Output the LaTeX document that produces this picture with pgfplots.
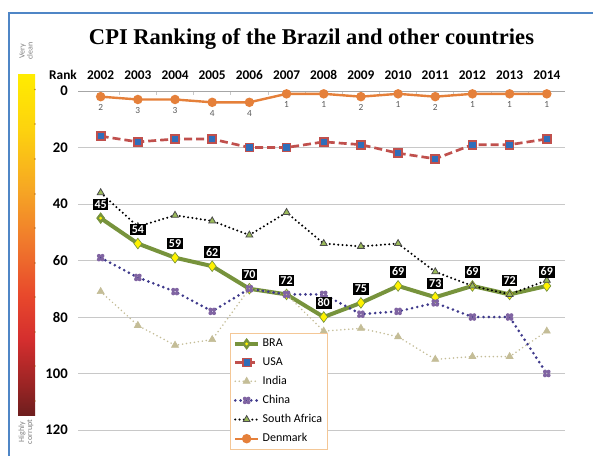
\documentclass[border=0pt]{standalone}
\usepackage{pgfplots}
\pgfplotsset{compat=1.18}
\usepackage{fontspec}
\setmainfont{Carlito}
\newfontfamily\titlefont{Liberation Serif}
\definecolor{braG}{HTML}{77933C}
\definecolor{usaR}{HTML}{C0504D}
\definecolor{usaB}{HTML}{2F6EBA}
\definecolor{indT}{HTML}{C4BD97}
\definecolor{chiL}{HTML}{3F3A8C}
\definecolor{chiM}{HTML}{8064A2}
\definecolor{saG}{HTML}{9BBB59}
\definecolor{denO}{HTML}{E5803A}
\definecolor{frameB}{HTML}{4F86C6}
\definecolor{legB}{HTML}{F4C796}
\definecolor{gridG}{HTML}{C8C8C8}
\definecolor{cbA}{HTML}{6E1E1E}
\definecolor{cbB}{HTML}{9A2424}
\definecolor{cbC}{HTML}{D42E2E}
\definecolor{cbD}{HTML}{E8482C}
\definecolor{cbE}{HTML}{F07A2C}
\definecolor{cbF}{HTML}{F6A624}
\definecolor{cbG}{HTML}{FDD30E}
\definecolor{cbH}{HTML}{FFEC00}
\pgfdeclareverticalshading{cbar}{100bp}{color(0bp)=(cbA); color(25bp)=(cbA); color(29.4bp)=(cbB); color(36bp)=(cbC); color(42.5bp)=(cbD); color(50.5bp)=(cbE); color(58bp)=(cbF); color(67bp)=(cbG); color(75bp)=(cbH); color(100bp)=(cbH)}
\pgfdeclareplotmark{brad}{%
  \pgfuseplotmark{diamond*}%
  \pgfsetfillcolor{yellow}%
  \pgfpathcircle{\pgfpointorigin}{0.3\pgfplotmarksize}%
  \pgfusepath{fill}}
\pgfdeclareplotmark{clover}{%
  \pgfpathcircle{\pgfqpoint{0.45\pgfplotmarksize}{0.45\pgfplotmarksize}}{0.5\pgfplotmarksize}%
  \pgfpathcircle{\pgfqpoint{-0.45\pgfplotmarksize}{0.45\pgfplotmarksize}}{0.5\pgfplotmarksize}%
  \pgfpathcircle{\pgfqpoint{0.45\pgfplotmarksize}{-0.45\pgfplotmarksize}}{0.5\pgfplotmarksize}%
  \pgfpathcircle{\pgfqpoint{-0.45\pgfplotmarksize}{-0.45\pgfplotmarksize}}{0.5\pgfplotmarksize}%
  \pgfusepath{fill}}
\begin{document}
\begin{tikzpicture}[x=0.75pt,y=-0.75pt]
\path[use as bounding box] (0,0) rectangle (593,455);
\fill[white] (0,0) rectangle (593,455);
\draw[frameB, line width=1.3pt] (9,470) -- (9,13) -- (610,13);
% title
\node[anchor=base, font=\titlefont\bfseries\fontsize{16.9}{18}\selectfont] at (311.5,44) {CPI Ranking of the Brazil and other countries};
% colour bar
\shade[shading=cbar] (18,74) rectangle (35,415);
\foreach \yy in {89.5,124,159,194,228,263,297,332,366,401}
  \fill[black!40!orange, opacity=0.6] (35,\yy) circle (0.9);
\node[rotate=90, align=center, text=gray, font=\fontsize{6}{6}\selectfont, inner sep=0pt] at (26,51) {Very\\clean};
\node[rotate=90, align=center, text=gray, font=\fontsize{6}{6}\selectfont, inner sep=0pt] at (26,432) {Highly\\corrupt};
\node[font=\bfseries\fontsize{10}{12}\selectfont] at (63,75) {Rank};
\begin{axis}[
  at={(58.5pt,-68.25pt)}, anchor=north west,
  width=365.25pt, height=254.25pt, scale only axis,
  y dir=reverse,
  xmin=2001.39, xmax=2014.49, ymin=0, ymax=120,
  clip=false,
  /pgf/number format/assume math mode=true,
  /pgf/number format/1000 sep={},
  axis line style={draw=none},
  xtick={2002,2003,...,2014},
  minor xtick={2002.5,2003.5,...,2013.5},
  xtick pos=upper, xticklabel pos=upper,
  ytick={0,20,...,120}, ytick pos=left,
  major tick length=0pt,
  minor tick length=3pt,
  minor tick style={gridG, line width=0.6pt},
  tick align=inside,
  xticklabel style={anchor=base, yshift=9pt, font=\bfseries\fontsize{10}{12}\selectfont},
  yticklabel style={anchor=east, inner sep=0pt, xshift=-7.5pt, font=\bfseries\fontsize{11}{13}\selectfont},
  ymajorgrids, grid style={gridG, line width=0.6pt},
  legend style={at={(0.312,0.286)}, anchor=north west, draw=legB, line width=1pt,
     font=\fontsize{9}{11}\selectfont, row sep=2.6pt, inner sep=2pt, fill=white,
     cells={anchor=west}},
  legend cell align=left,
]
\draw[gray!70, line width=0.7pt] (axis cs:2001.39,0) -- (axis cs:2014.49,0);
% BRA
\addplot[braG, line width=3pt, mark=brad, mark size=4pt, mark options={fill=braG, draw=braG, line width=0.5pt}]
coordinates {(2002,45)(2003,54)(2004,59)(2005,62)(2006,70)(2007,72)(2008,80)(2009,75)(2010,69)(2011,73)(2012,69)(2013,72)(2014,69)};
\addlegendentry{BRA}
% USA
\addplot[usaR, line width=2pt, dash pattern=on 6pt off 3pt, mark=square*, mark size=3pt, mark options={solid, fill=usaB, draw=usaR, line width=1.3pt}]
coordinates {(2002,16)(2003,18)(2004,17)(2005,17)(2006,20)(2007,20)(2008,18)(2009,19)(2010,22)(2011,24)(2012,19)(2013,19)(2014,17)};
\addlegendentry{USA}
% India
\addplot[indT, line width=1.3pt, line cap=round, dash pattern=on 0pt off 3pt, mark=triangle*, mark size=3pt, mark options={solid, fill=indT, draw=indT, line width=0.5pt}]
coordinates {(2002,71)(2003,83)(2004,90)(2005,88)(2006,70)(2007,72)(2008,85)(2009,84)(2010,87)(2011,95)(2012,94)(2013,94)(2014,85)};
\addlegendentry{India}
% China
\addplot[chiL, line width=2.2pt, line cap=round, dash pattern=on 0pt off 4pt, mark=clover, mark size=3pt, mark options={solid, fill=chiM, draw=chiM, line width=0.3pt}]
coordinates {(2002,59)(2003,66)(2004,71)(2005,78)(2006,70)(2007,72)(2008,72)(2009,79)(2010,78)(2011,75)(2012,80)(2013,80)(2014,100)};
\addlegendentry{China}
% South Africa
\addplot[black, line width=1.7pt, line cap=round, dash pattern=on 0pt off 3.2pt, mark=triangle*, mark size=3pt, mark options={solid, fill=saG, draw=black!70, line width=0.6pt}]
coordinates {(2002,36)(2003,48)(2004,44)(2005,46)(2006,51)(2007,43)(2008,54)(2009,55)(2010,54)(2011,64)(2012,69)(2013,72)(2014,67)};
\addlegendentry{South Africa}
% Denmark
\addplot[denO, line width=1.8pt, mark=*, mark size=2.6pt, mark options={fill=denO, draw=denO},
  nodes near coords, nodes near coords style={anchor=north, yshift=-5pt, inner sep=0pt, text=black!65, font=\fontsize{7}{7}\selectfont}]
coordinates {(2002,2)(2003,3)(2004,3)(2005,4)(2006,4)(2007,1)(2008,1)(2009,2)(2010,1)(2011,2)(2012,1)(2013,1)(2014,1)};
\addlegendentry{Denmark}
% BRA data labels on top
\addplot[draw=none, mark=none, forget plot, nodes near coords,
  nodes near coords style={anchor=south, yshift=6pt, fill=black, text=white, inner sep=1.3pt, font=\bfseries\fontsize{9}{9}\selectfont}]
coordinates {(2002,45)(2003,54)(2004,59)(2005,62)(2006,70)(2007,72)(2008,80)(2009,75)(2010,69)(2011,73)(2012,69)(2013,72)(2014,69)};
\end{axis}
\end{tikzpicture}
\end{document}
